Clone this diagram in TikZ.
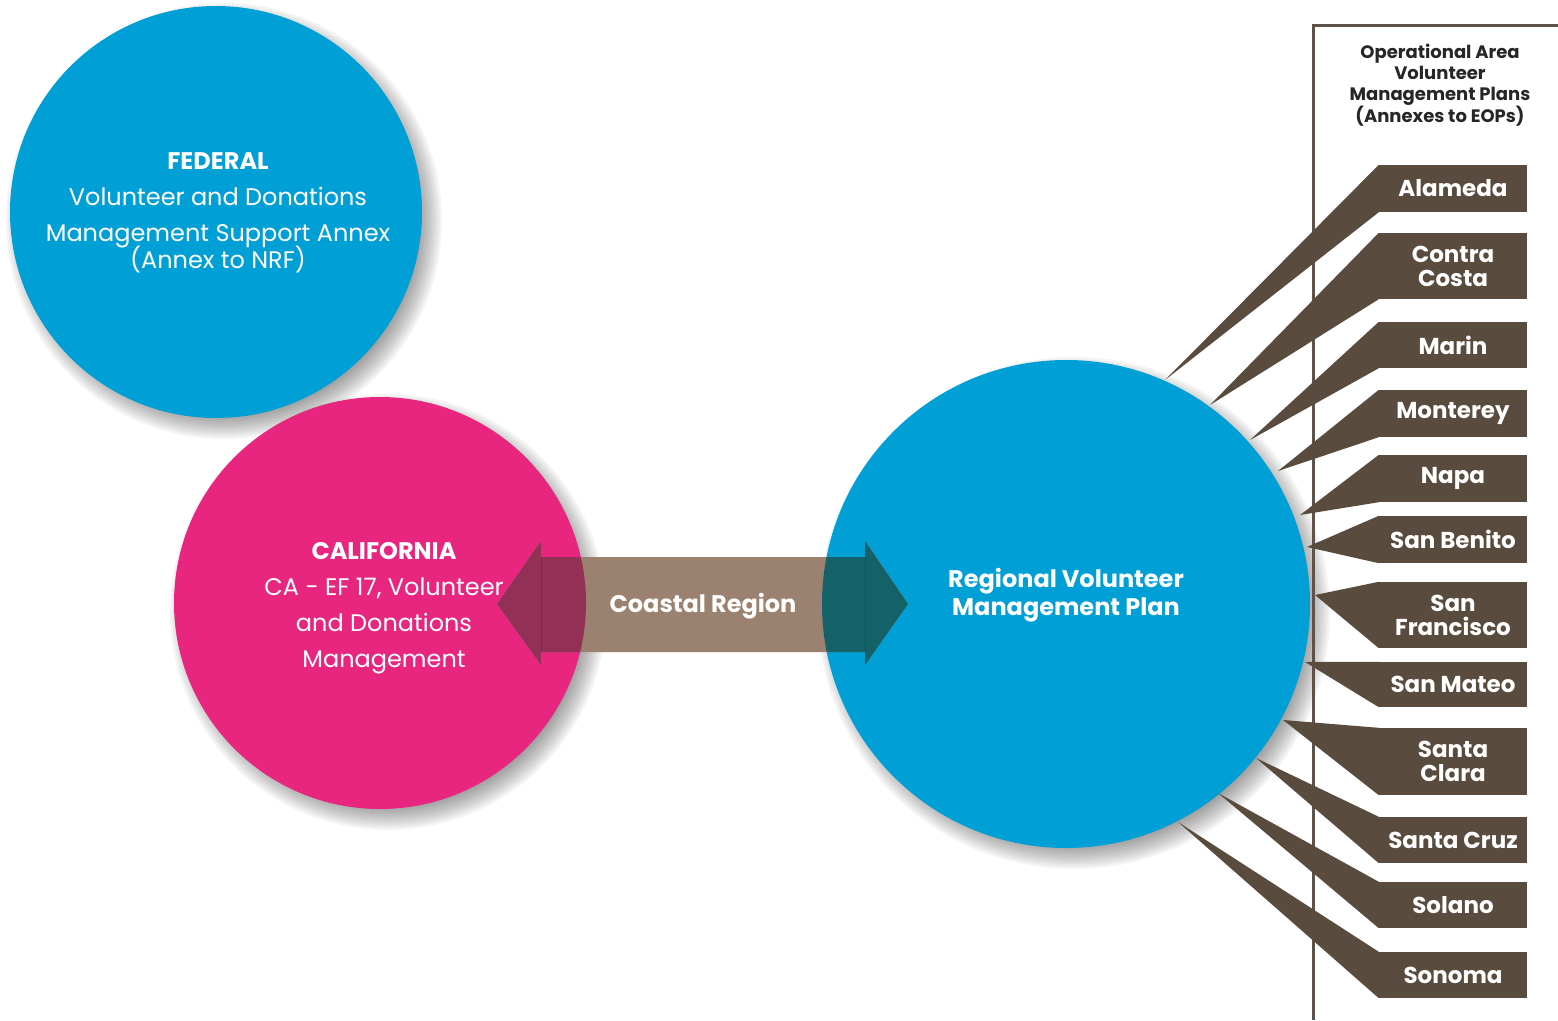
\documentclass[tikz,border=0pt]{standalone}
\usepackage{fontspec}
\setmainfont{Poppins}
\usepackage{tikz}
\usetikzlibrary{positioning}

\definecolor{fedblue}{RGB}{0,159,214}
\definecolor{capink}{RGB}{232,38,128}
\definecolor{arrowbrown}{RGB}{155,130,112}
\definecolor{countybrown}{RGB}{90,75,63}
\definecolor{panelline}{RGB}{95,82,72}
\definecolor{overpink}{RGB}{146,48,86}
\definecolor{overblue}{RGB}{20,97,103}

% soft shadow behind a disc: centre x, centre y, radius
\newcommand{\softshadow}[3]{%
  \foreach \k in {0,...,10}
    \fill[black, opacity=0.045] (#1+8,#2+9) circle ({#3+12-2.4*\k});
}
\newcommand{\coastalpath}{(497,604) -- (541,541) -- (541,557) -- (865,557) -- (865,541)
  -- (908,604) -- (865,665) -- (865,652) -- (541,652) -- (541,665) -- cycle}

\begin{document}
\begin{tikzpicture}[
			x=1pt, y=-1pt,
			disc/.style={circle, inner sep=0pt},
			disctext/.style={text=white, align=center, font=\fontsize{24}{36}\selectfont},
			county/.style={fill=countybrown, text=white, minimum width=148pt, inner sep=0pt,
				align=center, font=\fontsize{23}{24}\selectfont\bfseries},
			wedge/.style={fill=countybrown}
			]
			\useasboundingbox (0,0) rectangle (1558,1020);
			
			% circles with their shadows
			\softshadow{216}{212}{206}
			\node[disc, fill=fedblue, minimum size=412pt] (federal) at (216,212) {};
			\softshadow{380}{603}{206}
			\node[disc, fill=capink, minimum size=412pt] (california) at (380,603) {};
			\softshadow{1066}{604}{244}
			\node[disc, fill=fedblue, minimum size=488pt] (regional) at (1066,604) {};
			
			% double arrow between state and region
			\fill[arrowbrown] \coastalpath;
			\begin{scope}
				\clip (california.center) circle (206);
				\fill[overpink] \coastalpath;
				\draw[black, opacity=0.12] (541,557) -- (541,652);
			\end{scope}
			\begin{scope}
				\clip (regional.center) circle (244);
				\fill[overblue] \coastalpath;
				\draw[black, opacity=0.12] (865,557) -- (865,652);
			\end{scope}
			\node[text=white, font=\fontsize{24}{24}\selectfont\bfseries] (coastal) at (703,606) {Coastal Region};
			
			% texts in the circles
			\node[disctext] (fedtext) at (218,213) {\textbf{FEDERAL}\\Volunteer and Donations\\Management Support Annex\\[-9pt](Annex to NRF)};
			\node[disctext] (caltext) at (384,608) {\textbf{CALIFORNIA}\\CA - EF 17, Volunteer\\and Donations\\Management};
			\node[text=white, align=center, font=\fontsize{24}{28}\selectfont\bfseries] (regtext) at (1066,595) {Regional Volunteer\\Management Plan};
			
			% operational area panel
			\draw[panelline, line width=3pt] (1558,25) -- (1313,25) -- (1313,1020);
			\node[align=center, text=black!85, font=\fontsize{18}{21}\selectfont\bfseries] (title) at (1440,85)
				{Operational Area\\Volunteer\\Management Plans\\(Annexes to EOPs)};
			
			% county boxes
			\node[county, minimum height=47pt] (alameda) at (1453,188.5) {Alameda};
			\node[county, minimum height=66pt] (contracosta) at (1453,266) {Contra\\Costa};
			\node[county, minimum height=46pt] (marin) at (1453,345) {Marin};
			\node[county, minimum height=47pt] (monterey) at (1453,413.5) {Monterey};
			\node[county, minimum height=47pt] (napa) at (1453,478.5) {Napa};
			\node[county, minimum height=47pt] (sanbenito) at (1453,539.5) {San Benito};
			\node[county, minimum height=66pt] (sanfrancisco) at (1453,615) {San\\Francisco};
			\node[county, minimum height=45pt] (sanmateo) at (1453,684.5) {San Mateo};
			\node[county, minimum height=67pt] (santaclara) at (1453,761.5) {Santa\\Clara};
			\node[county, minimum height=46pt] (santacruz) at (1453,840) {Santa Cruz};
			\node[county, minimum height=46pt] (solano) at (1453,905) {Solano};
			\node[county, minimum height=46pt] (sonoma) at (1453,975) {Sonoma};
			
			% where each wedge meets the regional circle
			\coordinate (t-alameda) at (1165,380);
			\coordinate (t-contracosta) at (1210,405);
			\coordinate (t-marin) at (1250,440);
			\coordinate (t-monterey) at (1278,471);
			\coordinate (t-napa) at (1300,515);
			\coordinate (t-sanbenito) at (1307,547);
			\coordinate (t-sanfrancisco) at (1315,595);
			\coordinate (t-sanmateo) at (1305,662);
			\coordinate (t-santaclara) at (1283,720);
			\coordinate (t-santacruz) at (1256,758);
			\coordinate (t-solano) at (1218,793);
			\coordinate (t-sonoma) at (1178,822);
			
			% wedges
			\fill[wedge] (alameda.north west) -- (t-alameda) -- (alameda.south west) -- cycle;
			\fill[wedge] (contracosta.north west) -- (t-contracosta) -- (contracosta.south west) -- cycle;
			\fill[wedge] (marin.north west) -- (t-marin) -- (marin.south west) -- cycle;
			\fill[wedge] (monterey.north west) -- (t-monterey) -- (monterey.south west) -- cycle;
			\fill[wedge] (napa.north west) -- (t-napa) -- (napa.south west) -- cycle;
			\fill[wedge] (sanbenito.north west) -- (t-sanbenito) -- (sanbenito.south west) -- cycle;
			\fill[wedge] (sanfrancisco.north west) -- (t-sanfrancisco) -- (sanfrancisco.south west) -- cycle;
			\fill[wedge] (sanmateo.north west) -- (t-sanmateo) -- (sanmateo.south west) -- cycle;
			\fill[wedge] (santaclara.north west) -- (t-santaclara) -- (santaclara.south west) -- cycle;
			\fill[wedge] (santacruz.north west) -- (t-santacruz) -- (santacruz.south west) -- cycle;
			\fill[wedge] (solano.north west) -- (t-solano) -- (solano.south west) -- cycle;
			\fill[wedge] (sonoma.north west) -- (t-sonoma) -- (sonoma.south west) -- cycle;
		\end{tikzpicture}
\end{document}
